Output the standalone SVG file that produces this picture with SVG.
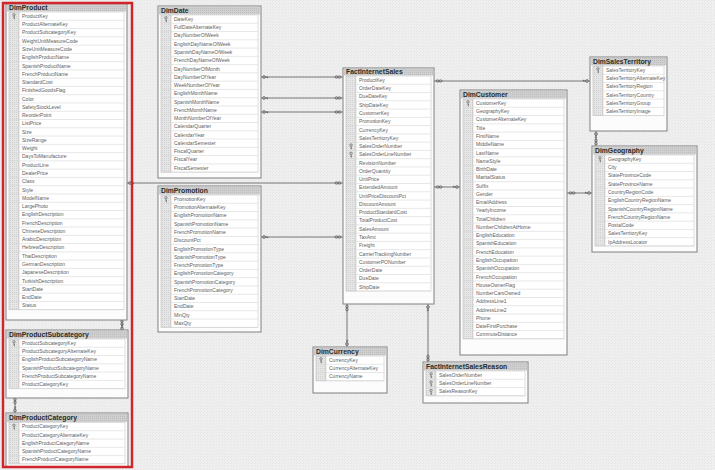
<svg xmlns="http://www.w3.org/2000/svg" xmlns:xlink="http://www.w3.org/1999/xlink" width="715" height="470" viewBox="0 0 715 470">
<style>
.tb{fill:#fcfcfc;stroke:#808080;stroke-width:1}
.hd{fill:url(#hdp)}
.ht{font-family:"Liberation Sans",Arial,sans-serif;font-weight:bold;font-size:6.8px;fill:#2b2b2b}
.ic{fill:url(#icp);stroke:#b8b8b8;stroke-width:.6}
.tc{fill:#fff;stroke:#c8c8c8;stroke-width:.6}
.sep{stroke:#d6d6d6;stroke-width:.6;fill:none}
.r{font-family:"Liberation Sans",Arial,sans-serif;font-size:5px;fill:#606060}
.cn{stroke:#6a6a6a;stroke-width:.9;fill:none}
.sym{stroke:#555;stroke-width:.7;fill:none}
</style>
<defs>
<pattern id="dith" width="3" height="3" patternUnits="userSpaceOnUse"><rect width="3" height="3" fill="#efefef"/><rect width="1" height="1" fill="#e4e4e4"/><rect x="2" y="1" width="1" height="1" fill="#e8e8e8"/></pattern>
<pattern id="hdp" width="2" height="2" patternUnits="userSpaceOnUse"><rect width="2" height="2" fill="#cfcfcf"/><rect width="1" height="1" fill="#bdbdbd"/></pattern>
<pattern id="icp" width="2" height="2" patternUnits="userSpaceOnUse"><rect width="2" height="2" fill="#e6e6e6"/><rect width="1" height="1" fill="#d2d2d2"/></pattern>
<g id="pk"><circle cx="0" cy="-1.3" r="1.2" fill="none" stroke="#666" stroke-width=".7"/><path d="M0 -.1V2.6M0 1.6h1M0 2.5h1" stroke="#666" stroke-width=".7" fill="none"/></g>
<g id="keyH" class="sym"><circle cx="0" cy="0" r="1.4"/><path d="M1.4 0h2.8M3.4 0v1.3"/></g>
<g id="infH" class="sym"><ellipse cx="-1.5" cy="0" rx="1.5" ry="1.2"/><ellipse cx="1.5" cy="0" rx="1.5" ry="1.2"/></g>
</defs>
<rect width="715" height="470" fill="url(#dith)"/>

<g id="connectors">
<path class="cn" d="M127 183H343M261 77H343M261 98H343M261 112H343M261 237H343M434 81H590M434 187H460M567 193H592M596 131V146M122 320V330M15 398V413M347 304V347M428 304V362"/>
<use href="#keyH" transform="translate(130,183)"/><use href="#infH" transform="translate(338,183)"/>
<use href="#keyH" transform="translate(264,77)"/><use href="#infH" transform="translate(338,77)"/>
<use href="#keyH" transform="translate(264,98)"/><use href="#infH" transform="translate(338,98)"/>
<use href="#keyH" transform="translate(264,112)"/><use href="#infH" transform="translate(338,112)"/>
<use href="#keyH" transform="translate(264,237)"/><use href="#infH" transform="translate(338,237)"/>
<use href="#infH" transform="translate(439,81)"/><use href="#keyH" transform="translate(587,81) rotate(180)"/>
<use href="#infH" transform="translate(439,187)"/><use href="#keyH" transform="translate(457,187) rotate(180)"/>
<use href="#infH" transform="translate(572,193)"/><use href="#keyH" transform="translate(589,193) rotate(180)"/>
<use href="#keyH" transform="translate(596,134) rotate(90)"/><use href="#infH" transform="translate(596,142) rotate(90)"/>
<use href="#infH" transform="translate(122,322.5) rotate(90)"/><use href="#keyH" transform="translate(122,328.5) rotate(-90)"/>
<use href="#infH" transform="translate(15,401) rotate(90)"/><use href="#keyH" transform="translate(15,410.5) rotate(-90)"/>
<use href="#infH" transform="translate(347,308) rotate(90)"/><use href="#keyH" transform="translate(347,344) rotate(-90)"/>
<use href="#keyH" transform="translate(428,307) rotate(90)"/><use href="#infH" transform="translate(428,358) rotate(90)"/>
</g>

<g id="DimProduct">
<rect class="tb" x="6" y="4" width="121" height="316"/>
<rect class="hd" x="7" y="5" width="119" height="6.5"/>
<text class="ht" x="9" y="10.3">DimProduct</text>
<rect class="ic" x="9" y="12" width="10" height="297.72"/>
<rect class="tc" x="19" y="12" width="105" height="297.72"/>
<path class="sep" d="M9 20.27h115m-115 8.27h115m-115 8.27h115m-115 8.27h115m-115 8.27h115m-115 8.27h115m-115 8.27h115m-115 8.27h115m-115 8.27h115m-115 8.27h115m-115 8.27h115m-115 8.27h115m-115 8.27h115m-115 8.27h115m-115 8.27h115m-115 8.27h115m-115 8.27h115m-115 8.27h115m-115 8.27h115m-115 8.27h115m-115 8.27h115m-115 8.27h115m-115 8.27h115m-115 8.27h115m-115 8.27h115m-115 8.27h115m-115 8.27h115m-115 8.27h115m-115 8.27h115m-115 8.27h115m-115 8.27h115m-115 8.27h115m-115 8.27h115m-115 8.27h115m-115 8.27h115m-115 8.27h115"/>
<use href="#pk" x="14" y="16.1"/>
<text class="r" x="22" y="17.9"><tspan x="22">ProductKey</tspan><tspan x="22" dy="8.27">ProductAlternateKey</tspan><tspan x="22" dy="8.27">ProductSubcategoryKey</tspan><tspan x="22" dy="8.27">WeightUnitMeasureCode</tspan><tspan x="22" dy="8.27">SizeUnitMeasureCode</tspan><tspan x="22" dy="8.27">EnglishProductName</tspan><tspan x="22" dy="8.27">SpanishProductName</tspan><tspan x="22" dy="8.27">FrenchProductName</tspan><tspan x="22" dy="8.27">StandardCost</tspan><tspan x="22" dy="8.27">FinishedGoodsFlag</tspan><tspan x="22" dy="8.27">Color</tspan><tspan x="22" dy="8.27">SafetyStockLevel</tspan><tspan x="22" dy="8.27">ReorderPoint</tspan><tspan x="22" dy="8.27">ListPrice</tspan><tspan x="22" dy="8.27">Size</tspan><tspan x="22" dy="8.27">SizeRange</tspan><tspan x="22" dy="8.27">Weight</tspan><tspan x="22" dy="8.27">DaysToManufacture</tspan><tspan x="22" dy="8.27">ProductLine</tspan><tspan x="22" dy="8.27">DealerPrice</tspan><tspan x="22" dy="8.27">Class</tspan><tspan x="22" dy="8.27">Style</tspan><tspan x="22" dy="8.27">ModelName</tspan><tspan x="22" dy="8.27">LargePhoto</tspan><tspan x="22" dy="8.27">EnglishDescription</tspan><tspan x="22" dy="8.27">FrenchDescription</tspan><tspan x="22" dy="8.27">ChineseDescription</tspan><tspan x="22" dy="8.27">ArabicDescription</tspan><tspan x="22" dy="8.27">HebrewDescription</tspan><tspan x="22" dy="8.27">ThaiDescription</tspan><tspan x="22" dy="8.27">GermanDescription</tspan><tspan x="22" dy="8.27">JapaneseDescription</tspan><tspan x="22" dy="8.27">TurkishDescription</tspan><tspan x="22" dy="8.27">StartDate</tspan><tspan x="22" dy="8.27">EndDate</tspan><tspan x="22" dy="8.27">Status</tspan></text>
</g>

<g id="DimProductSubcategory">
<rect class="tb" x="6" y="330" width="122" height="68"/>
<rect class="hd" x="7" y="331" width="120" height="7.5"/>
<text class="ht" x="9" y="336.8">DimProductSubcategory</text>
<rect class="ic" x="9" y="339" width="10" height="49.62"/>
<rect class="tc" x="19" y="339" width="106" height="49.62"/>
<path class="sep" d="M9 347.27h116m-116 8.27h116m-116 8.27h116m-116 8.27h116m-116 8.27h116m-116 8.27h116"/>
<use href="#pk" x="14" y="343.1"/>
<text class="r" x="22" y="344.9"><tspan x="22">ProductSubcategoryKey</tspan><tspan x="22" dy="8.27">ProductSubcategoryAlternateKey</tspan><tspan x="22" dy="8.27">EnglishProductSubcategoryName</tspan><tspan x="22" dy="8.27">SpanishProductSubcategoryName</tspan><tspan x="22" dy="8.27">FrenchProductSubcategoryName</tspan><tspan x="22" dy="8.27">ProductCategoryKey</tspan></text>
</g>

<g id="DimProductCategory">
<rect class="tb" x="6" y="413" width="122" height="54"/>
<rect class="hd" x="7" y="414" width="120" height="8"/>
<text class="ht" x="9" y="420">DimProductCategory</text>
<rect class="ic" x="9" y="422.5" width="10" height="41.35"/>
<rect class="tc" x="19" y="422.5" width="106" height="41.35"/>
<path class="sep" d="M9 430.77h116m-116 8.27h116m-116 8.27h116m-116 8.27h116m-116 8.27h116"/>
<use href="#pk" x="14" y="426.6"/>
<text class="r" x="22" y="428.4"><tspan x="22">ProductCategoryKey</tspan><tspan x="22" dy="8.27">ProductCategoryAlternateKey</tspan><tspan x="22" dy="8.27">EnglishProductCategoryName</tspan><tspan x="22" dy="8.27">SpanishProductCategoryName</tspan><tspan x="22" dy="8.27">FrenchProductCategoryName</tspan></text>
</g>

<g id="DimDate">
<rect class="tb" x="158" y="6" width="103" height="172"/>
<rect class="hd" x="159" y="7" width="101" height="7.5"/>
<text class="ht" x="161" y="12.8">DimDate</text>
<rect class="ic" x="161" y="15" width="10" height="157.13"/>
<rect class="tc" x="171" y="15" width="87" height="157.13"/>
<path class="sep" d="M161 23.27h97m-97 8.27h97m-97 8.27h97m-97 8.27h97m-97 8.27h97m-97 8.27h97m-97 8.27h97m-97 8.27h97m-97 8.27h97m-97 8.27h97m-97 8.27h97m-97 8.27h97m-97 8.27h97m-97 8.27h97m-97 8.27h97m-97 8.27h97m-97 8.27h97m-97 8.27h97m-97 8.27h97"/>
<use href="#pk" x="166" y="19.1"/>
<text class="r" x="174" y="20.9"><tspan x="174">DateKey</tspan><tspan x="174" dy="8.27">FullDateAlternateKey</tspan><tspan x="174" dy="8.27">DayNumberOfWeek</tspan><tspan x="174" dy="8.27">EnglishDayNameOfWeek</tspan><tspan x="174" dy="8.27">SpanishDayNameOfWeek</tspan><tspan x="174" dy="8.27">FrenchDayNameOfWeek</tspan><tspan x="174" dy="8.27">DayNumberOfMonth</tspan><tspan x="174" dy="8.27">DayNumberOfYear</tspan><tspan x="174" dy="8.27">WeekNumberOfYear</tspan><tspan x="174" dy="8.27">EnglishMonthName</tspan><tspan x="174" dy="8.27">SpanishMonthName</tspan><tspan x="174" dy="8.27">FrenchMonthName</tspan><tspan x="174" dy="8.27">MonthNumberOfYear</tspan><tspan x="174" dy="8.27">CalendarQuarter</tspan><tspan x="174" dy="8.27">CalendarYear</tspan><tspan x="174" dy="8.27">CalendarSemester</tspan><tspan x="174" dy="8.27">FiscalQuarter</tspan><tspan x="174" dy="8.27">FiscalYear</tspan><tspan x="174" dy="8.27">FiscalSemester</tspan></text>
</g>

<g id="DimPromotion">
<rect class="tb" x="158" y="186" width="103" height="146"/>
<rect class="hd" x="159" y="187" width="101" height="7.5"/>
<text class="ht" x="161" y="192.8">DimPromotion</text>
<rect class="ic" x="161" y="195" width="10" height="132.32"/>
<rect class="tc" x="171" y="195" width="87" height="132.32"/>
<path class="sep" d="M161 203.27h97m-97 8.27h97m-97 8.27h97m-97 8.27h97m-97 8.27h97m-97 8.27h97m-97 8.27h97m-97 8.27h97m-97 8.27h97m-97 8.27h97m-97 8.27h97m-97 8.27h97m-97 8.27h97m-97 8.27h97m-97 8.27h97m-97 8.27h97"/>
<use href="#pk" x="166" y="199.1"/>
<text class="r" x="174" y="200.9"><tspan x="174">PromotionKey</tspan><tspan x="174" dy="8.27">PromotionAlternateKey</tspan><tspan x="174" dy="8.27">EnglishPromotionName</tspan><tspan x="174" dy="8.27">SpanishPromotionName</tspan><tspan x="174" dy="8.27">FrenchPromotionName</tspan><tspan x="174" dy="8.27">DiscountPct</tspan><tspan x="174" dy="8.27">EnglishPromotionType</tspan><tspan x="174" dy="8.27">SpanishPromotionType</tspan><tspan x="174" dy="8.27">FrenchPromotionType</tspan><tspan x="174" dy="8.27">EnglishPromotionCategory</tspan><tspan x="174" dy="8.27">SpanishPromotionCategory</tspan><tspan x="174" dy="8.27">FrenchPromotionCategory</tspan><tspan x="174" dy="8.27">StartDate</tspan><tspan x="174" dy="8.27">EndDate</tspan><tspan x="174" dy="8.27">MinQty</tspan><tspan x="174" dy="8.27">MaxQty</tspan></text>
</g>

<g id="FactInternetSales">
<rect class="tb" x="343" y="68" width="91" height="236"/>
<rect class="hd" x="344" y="69" width="89" height="6.5"/>
<text class="ht" x="346" y="74.3">FactInternetSales</text>
<rect class="ic" x="346" y="76" width="10" height="215.02"/>
<rect class="tc" x="356" y="76" width="75" height="215.02"/>
<path class="sep" d="M346 84.27h85m-85 8.27h85m-85 8.27h85m-85 8.27h85m-85 8.27h85m-85 8.27h85m-85 8.27h85m-85 8.27h85m-85 8.27h85m-85 8.27h85m-85 8.27h85m-85 8.27h85m-85 8.27h85m-85 8.27h85m-85 8.27h85m-85 8.27h85m-85 8.27h85m-85 8.27h85m-85 8.27h85m-85 8.27h85m-85 8.27h85m-85 8.27h85m-85 8.27h85m-85 8.27h85m-85 8.27h85m-85 8.27h85"/>
<use href="#pk" x="351" y="146.3"/><use href="#pk" x="351" y="154.6"/>
<text class="r" x="359" y="81.9"><tspan x="359">ProductKey</tspan><tspan x="359" dy="8.27">OrderDateKey</tspan><tspan x="359" dy="8.27">DueDateKey</tspan><tspan x="359" dy="8.27">ShipDateKey</tspan><tspan x="359" dy="8.27">CustomerKey</tspan><tspan x="359" dy="8.27">PromotionKey</tspan><tspan x="359" dy="8.27">CurrencyKey</tspan><tspan x="359" dy="8.27">SalesTerritoryKey</tspan><tspan x="359" dy="8.27">SalesOrderNumber</tspan><tspan x="359" dy="8.27">SalesOrderLineNumber</tspan><tspan x="359" dy="8.27">RevisionNumber</tspan><tspan x="359" dy="8.27">OrderQuantity</tspan><tspan x="359" dy="8.27">UnitPrice</tspan><tspan x="359" dy="8.27">ExtendedAmount</tspan><tspan x="359" dy="8.27">UnitPriceDiscountPct</tspan><tspan x="359" dy="8.27">DiscountAmount</tspan><tspan x="359" dy="8.27">ProductStandardCost</tspan><tspan x="359" dy="8.27">TotalProductCost</tspan><tspan x="359" dy="8.27">SalesAmount</tspan><tspan x="359" dy="8.27">TaxAmt</tspan><tspan x="359" dy="8.27">Freight</tspan><tspan x="359" dy="8.27">CarrierTrackingNumber</tspan><tspan x="359" dy="8.27">CustomerPONumber</tspan><tspan x="359" dy="8.27">OrderDate</tspan><tspan x="359" dy="8.27">DueDate</tspan><tspan x="359" dy="8.27">ShipDate</tspan></text>
</g>

<g id="DimCustomer">
<rect class="tb" x="460" y="90" width="107" height="265"/>
<rect class="hd" x="461" y="91" width="105" height="7.5"/>
<text class="ht" x="463" y="96.8">DimCustomer</text>
<rect class="ic" x="463" y="99" width="10" height="239.83"/>
<rect class="tc" x="473" y="99" width="91" height="239.83"/>
<path class="sep" d="M463 107.27h101m-101 8.27h101m-101 8.27h101m-101 8.27h101m-101 8.27h101m-101 8.27h101m-101 8.27h101m-101 8.27h101m-101 8.27h101m-101 8.27h101m-101 8.27h101m-101 8.27h101m-101 8.27h101m-101 8.27h101m-101 8.27h101m-101 8.27h101m-101 8.27h101m-101 8.27h101m-101 8.27h101m-101 8.27h101m-101 8.27h101m-101 8.27h101m-101 8.27h101m-101 8.27h101m-101 8.27h101m-101 8.27h101m-101 8.27h101m-101 8.27h101m-101 8.27h101"/>
<use href="#pk" x="468" y="103.1"/>
<text class="r" x="476" y="104.9"><tspan x="476">CustomerKey</tspan><tspan x="476" dy="8.27">GeographyKey</tspan><tspan x="476" dy="8.27">CustomerAlternateKey</tspan><tspan x="476" dy="8.27">Title</tspan><tspan x="476" dy="8.27">FirstName</tspan><tspan x="476" dy="8.27">MiddleName</tspan><tspan x="476" dy="8.27">LastName</tspan><tspan x="476" dy="8.27">NameStyle</tspan><tspan x="476" dy="8.27">BirthDate</tspan><tspan x="476" dy="8.27">MaritalStatus</tspan><tspan x="476" dy="8.27">Suffix</tspan><tspan x="476" dy="8.27">Gender</tspan><tspan x="476" dy="8.27">EmailAddress</tspan><tspan x="476" dy="8.27">YearlyIncome</tspan><tspan x="476" dy="8.27">TotalChildren</tspan><tspan x="476" dy="8.27">NumberChildrenAtHome</tspan><tspan x="476" dy="8.27">EnglishEducation</tspan><tspan x="476" dy="8.27">SpanishEducation</tspan><tspan x="476" dy="8.27">FrenchEducation</tspan><tspan x="476" dy="8.27">EnglishOccupation</tspan><tspan x="476" dy="8.27">SpanishOccupation</tspan><tspan x="476" dy="8.27">FrenchOccupation</tspan><tspan x="476" dy="8.27">HouseOwnerFlag</tspan><tspan x="476" dy="8.27">NumberCarsOwned</tspan><tspan x="476" dy="8.27">AddressLine1</tspan><tspan x="476" dy="8.27">AddressLine2</tspan><tspan x="476" dy="8.27">Phone</tspan><tspan x="476" dy="8.27">DateFirstPurchase</tspan><tspan x="476" dy="8.27">CommuteDistance</tspan></text>
</g>

<g id="DimSalesTerritory">
<rect class="tb" x="590" y="57" width="77" height="74"/>
<rect class="hd" x="591" y="58" width="75" height="7.5"/>
<text class="ht" x="593" y="63.8">DimSalesTerritory</text>
<rect class="ic" x="593" y="66" width="10" height="49.62"/>
<rect class="tc" x="603" y="66" width="61" height="49.62"/>
<path class="sep" d="M593 74.27h71m-71 8.27h71m-71 8.27h71m-71 8.27h71m-71 8.27h71m-71 8.27h71"/>
<use href="#pk" x="598" y="70.1"/>
<text class="r" x="606" y="71.9"><tspan x="606">SalesTerritoryKey</tspan><tspan x="606" dy="8.27">SalesTerritoryAlternateKey</tspan><tspan x="606" dy="8.27">SalesTerritoryRegion</tspan><tspan x="606" dy="8.27">SalesTerritoryCountry</tspan><tspan x="606" dy="8.27">SalesTerritoryGroup</tspan><tspan x="606" dy="8.27">SalesTerritoryImage</tspan></text>
</g>

<g id="DimGeography">
<rect class="tb" x="592" y="146" width="105" height="106"/>
<rect class="hd" x="593" y="147" width="103" height="7.5"/>
<text class="ht" x="595" y="152.8">DimGeography</text>
<rect class="ic" x="595" y="155" width="10" height="90.97"/>
<rect class="tc" x="605" y="155" width="89" height="90.97"/>
<path class="sep" d="M595 163.27h99m-99 8.27h99m-99 8.27h99m-99 8.27h99m-99 8.27h99m-99 8.27h99m-99 8.27h99m-99 8.27h99m-99 8.27h99m-99 8.27h99m-99 8.27h99"/>
<use href="#pk" x="600" y="159.1"/>
<text class="r" x="608" y="160.9"><tspan x="608">GeographyKey</tspan><tspan x="608" dy="8.27">City</tspan><tspan x="608" dy="8.27">StateProvinceCode</tspan><tspan x="608" dy="8.27">StateProvinceName</tspan><tspan x="608" dy="8.27">CountryRegionCode</tspan><tspan x="608" dy="8.27">EnglishCountryRegionName</tspan><tspan x="608" dy="8.27">SpanishCountryRegionName</tspan><tspan x="608" dy="8.27">FrenchCountryRegionName</tspan><tspan x="608" dy="8.27">PostalCode</tspan><tspan x="608" dy="8.27">SalesTerritoryKey</tspan><tspan x="608" dy="8.27">IpAddressLocator</tspan></text>
</g>

<g id="DimCurrency">
<rect class="tb" x="313" y="347" width="74" height="46"/>
<rect class="hd" x="314" y="348" width="72" height="7.5"/>
<text class="ht" x="316" y="353.8">DimCurrency</text>
<rect class="ic" x="316" y="356" width="10" height="24.81"/>
<rect class="tc" x="326" y="356" width="58" height="24.81"/>
<path class="sep" d="M316 364.27h68m-68 8.27h68m-68 8.27h68"/>
<use href="#pk" x="321" y="360.1"/>
<text class="r" x="329" y="361.9"><tspan x="329">CurrencyKey</tspan><tspan x="329" dy="8.27">CurrencyAlternateKey</tspan><tspan x="329" dy="8.27">CurrencyName</tspan></text>
</g>

<g id="FactInternetSalesReason">
<rect class="tb" x="423" y="362" width="105" height="41"/>
<rect class="hd" x="424" y="363" width="103" height="7.5"/>
<text class="ht" x="426" y="368.8">FactInternetSalesReason</text>
<rect class="ic" x="426" y="371" width="10" height="24.81"/>
<rect class="tc" x="436" y="371" width="89" height="24.81"/>
<path class="sep" d="M426 379.27h99m-99 8.27h99m-99 8.27h99"/>
<use href="#pk" x="431" y="375.1"/><use href="#pk" x="431" y="383.4"/><use href="#pk" x="431" y="391.7"/>
<text class="r" x="439" y="376.9"><tspan x="439">SalesOrderNumber</tspan><tspan x="439" dy="8.27">SalesOrderLineNumber</tspan><tspan x="439" dy="8.27">SalesReasonKey</tspan></text>
</g>

<rect id="highlight" x="3" y="3" width="129" height="464" fill="none" stroke="#d0262b" stroke-width="2.5"/>
</svg>
